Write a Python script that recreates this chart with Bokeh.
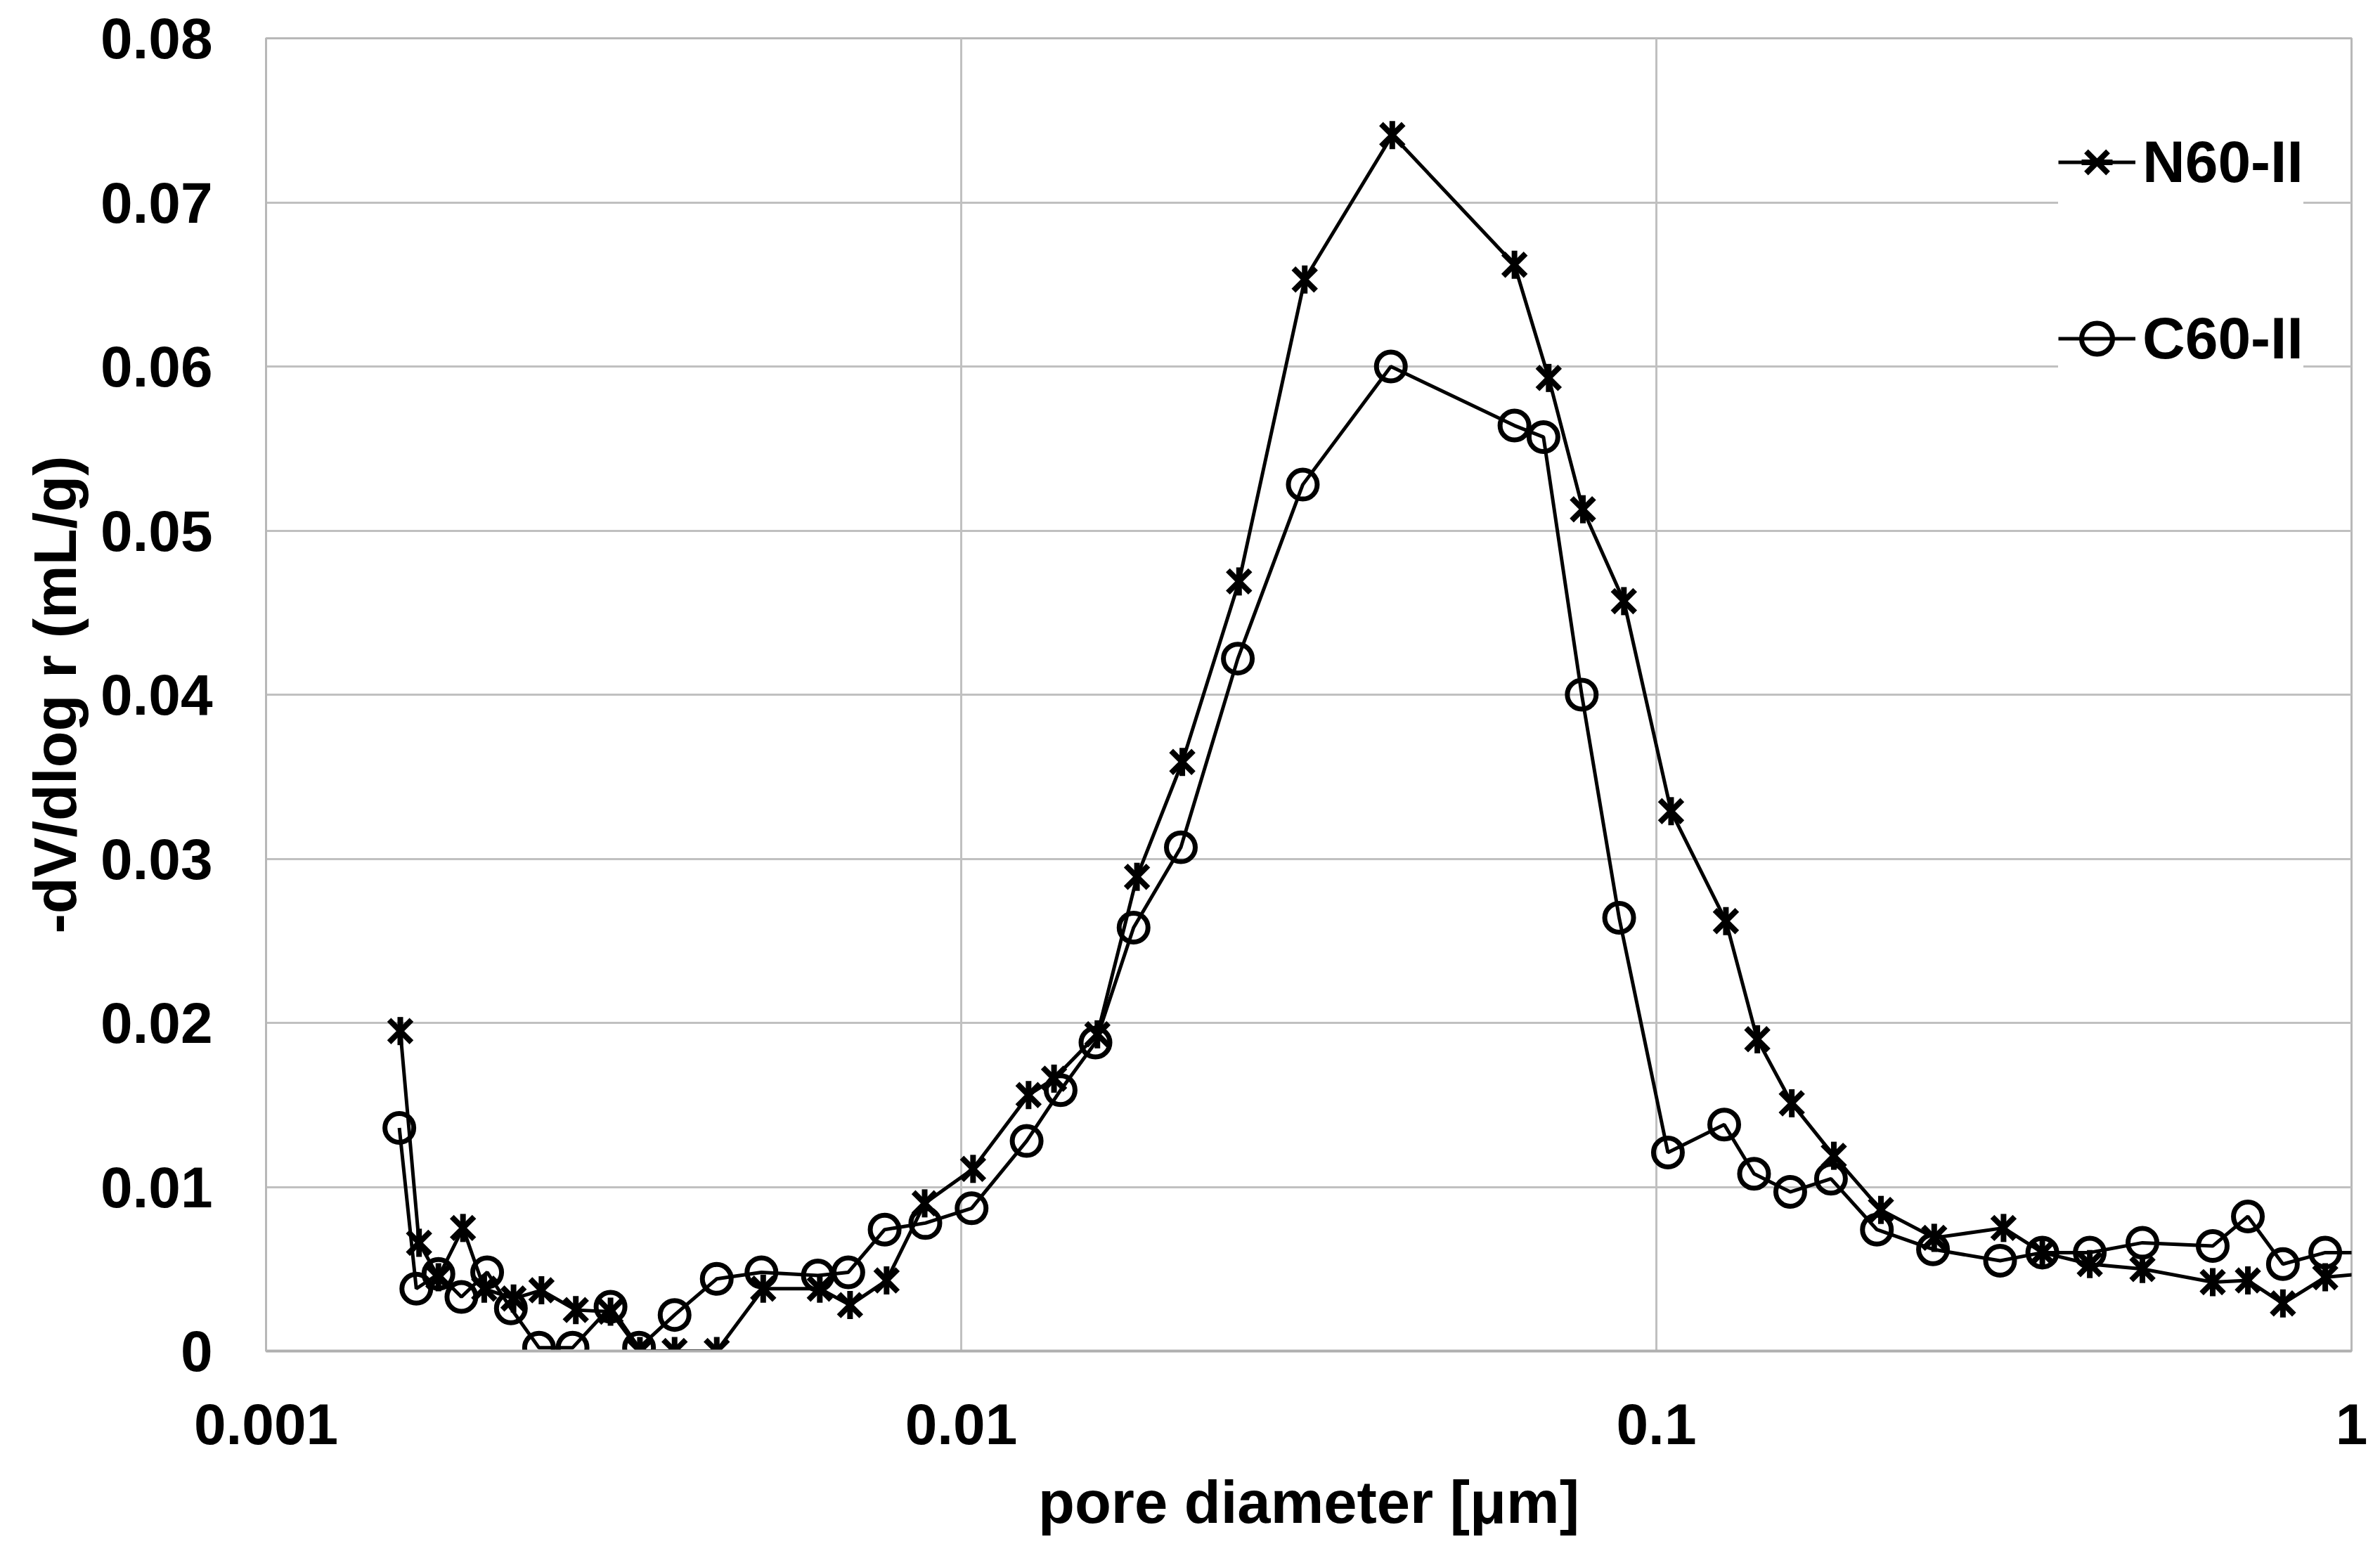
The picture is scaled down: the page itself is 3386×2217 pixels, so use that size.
import math
from bokeh.plotting import figure
from bokeh.models import FixedTicker, Legend, LegendItem, Range1d
from bokeh.embed import file_html
from bokeh.resources import INLINE

# ---------------- data ----------------
diam_n60 = [0.00156, 0.00166, 0.00177, 0.00192, 0.00206, 0.00227, 0.00249, 0.00279,
            0.00313, 0.00345, 0.00387, 0.00445, 0.00519, 0.00626, 0.00692, 0.00781,
            0.00886, 0.0104, 0.0125, 0.0136, 0.0157, 0.0179, 0.0208, 0.0251,
            0.0312, 0.0417, 0.0625, 0.0700, 0.0784, 0.0898, 0.1050, 0.1259,
            0.1397, 0.1566, 0.1800, 0.2104, 0.2510, 0.3158, 0.3591, 0.4202,
            0.5003, 0.6314, 0.7094, 0.7967, 0.9166, 1.10]
dv_n60 = [0.0195, 0.0066, 0.0045, 0.0075, 0.0038, 0.0032, 0.0037, 0.0025,
          0.0024, 0.0, 0.0, 0.0, 0.0038, 0.0038, 0.0028, 0.0043,
          0.0090, 0.0111, 0.0156, 0.0166, 0.0193, 0.0289, 0.0359, 0.0469,
          0.0653, 0.0741, 0.0662, 0.0593, 0.0513, 0.0457, 0.0329, 0.0262,
          0.0190, 0.0151, 0.0119, 0.0086, 0.0069, 0.0075, 0.0060, 0.0053,
          0.0050, 0.0042, 0.0043, 0.0029, 0.0045, 0.0048]

diam_c60 = [0.001555, 0.001645, 0.00177, 0.00191, 0.00208, 0.00225, 0.00247, 0.00276,
            0.00313, 0.00344, 0.00387, 0.00445, 0.00516, 0.00622, 0.00688, 0.00776,
            0.00888, 0.01035, 0.01242, 0.0139, 0.0156, 0.0177, 0.0207, 0.0250,
            0.0310, 0.0415, 0.0625, 0.0688, 0.0781, 0.0884, 0.1039, 0.1252,
            0.1382, 0.1558, 0.1783, 0.2076, 0.2500, 0.3122, 0.3591, 0.4202,
            0.5003, 0.6314, 0.7094, 0.7967, 0.9166, 1.10]
dv_c60 = [0.0136, 0.0038, 0.0047, 0.0033, 0.0048, 0.0026, 0.0002, 0.0002,
          0.0027, 0.0002, 0.0022, 0.0044, 0.0048, 0.0046, 0.0048, 0.0074,
          0.0078, 0.0087, 0.0128, 0.0159, 0.0188, 0.0258, 0.0307, 0.0422,
          0.0528, 0.0600, 0.0564, 0.0557, 0.0400, 0.0264, 0.0121, 0.0138,
          0.0108, 0.0097, 0.0105, 0.0074, 0.0062, 0.0055, 0.0060, 0.0060,
          0.0066, 0.0064, 0.0082, 0.0053, 0.0060, 0.0060]

series_names = ["N60-II", "C60-II"]
x_ticks = [0.001, 0.01, 0.1, 1.0]
x_tick_labels = ["0.001", "0.01", "0.1", "1"]
y_ticks = [0.0, 0.01, 0.02, 0.03, 0.04, 0.05, 0.06, 0.07, 0.08]
y_tick_labels = ["0", "0.01", "0.02", "0.03", "0.04", "0.05", "0.06", "0.07", "0.08"]
x_title = "pore diameter [μm]"
y_title = "-dV/dlog r (mL/g)"

FONT = "Liberation Sans"

p = figure(width=3380, height=2212, x_axis_type="log",
           x_range=Range1d(0.001, 1.0), y_range=Range1d(0.0, 0.08),
           output_backend="svg", toolbar_location=None, title=None,
           min_border_left=378, min_border_right=35,
           min_border_top=54, min_border_bottom=290,
           background_fill_color="white", border_fill_color="white")

# series
ln1 = p.line(diam_n60, dv_n60, line_color="black", line_width=5)
mx1 = p.scatter(diam_n60, dv_n60, marker="x", size=45, line_color="black", line_width=8)
md1 = p.scatter(diam_n60, dv_n60, marker="dash", angle=math.pi / 2, size=40,
                line_color="black", line_width=8)
ln2 = p.line(diam_c60, dv_c60, line_color="black", line_width=5)
mc2 = p.scatter(diam_c60, dv_c60, marker="circle", size=41, line_color="black",
                line_width=7, fill_color=None)

# axes
p.xaxis.ticker = FixedTicker(ticks=x_ticks)
p.xaxis.major_label_overrides = dict(zip(x_ticks, x_tick_labels))
p.yaxis.ticker = FixedTicker(ticks=y_ticks)
p.yaxis.major_label_overrides = dict(zip(y_ticks, y_tick_labels))
p.xaxis.axis_label = x_title
p.yaxis.axis_label = y_title

for ax in (p.xaxis, p.yaxis):
    ax.major_label_text_font = FONT
    ax.major_label_text_font_style = "bold"
    ax.major_label_text_font_size = "82px"
    ax.major_label_text_color = "black"
    ax.axis_label_text_font = FONT
    ax.axis_label_text_font_style = "bold"
    ax.axis_label_text_font_size = "85px"
    ax.axis_label_text_color = "black"
    ax.major_tick_line_color = None
    ax.minor_tick_line_color = None
    ax.major_tick_out = 0
    ax.major_tick_in = 0

p.xaxis.major_label_standoff = 75
p.xaxis.axis_label_standoff = 32
p.xaxis.axis_line_color = "#b0b0b0"
p.xaxis.axis_line_width = 4
p.yaxis.major_label_standoff = 76
p.yaxis.axis_label_standoff = 14
p.yaxis.axis_line_color = "#b8b8b8"
p.yaxis.axis_line_width = 3

p.xgrid.grid_line_color = "#c0c0c0"
p.xgrid.grid_line_width = 3
p.ygrid.grid_line_color = "#c0c0c0"
p.ygrid.grid_line_width = 3
p.outline_line_color = "#b8b8b8"
p.outline_line_width = 3

legend = Legend(
    items=[LegendItem(label=series_names[0], renderers=[ln1, mx1, md1]),
           LegendItem(label=series_names[1], renderers=[ln2, mc2])],
    location=(2550, 1383),
    orientation="vertical",
    label_text_font=FONT, label_text_font_style="bold",
    label_text_font_size="84px", label_text_color="black",
    glyph_width=110, glyph_height=115, label_height=100,
    label_standoff=10, spacing=136, padding=12, margin=0,
    border_line_color=None, background_fill_color="white",
    background_fill_alpha=1.0,
)
p.add_layout(legend)

open("out.html", "w").write(file_html(p, INLINE))
